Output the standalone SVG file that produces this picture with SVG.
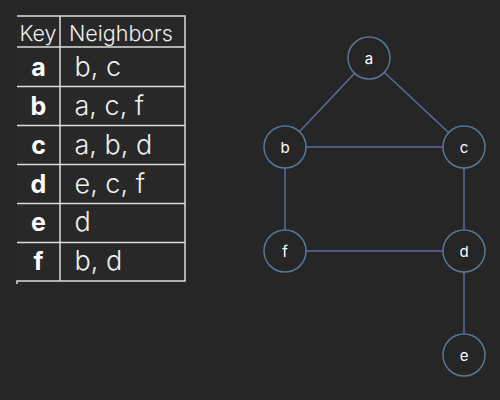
<svg xmlns="http://www.w3.org/2000/svg" width="500" height="400" viewBox="0 0 500 400">
<style>
.bg{fill:#262626}
.grid{stroke:#dcdcdc;stroke-width:1.5;fill:none}
.hdr{font-family:Inter,"Liberation Sans",sans-serif;font-weight:300;font-size:21.5px;fill:#f0f0f0}
.key{font-family:Inter,"Liberation Sans",sans-serif;font-weight:700;font-size:25px;fill:#ffffff;text-anchor:middle}
.nb{font-family:Inter,"Liberation Sans",sans-serif;font-weight:300;font-size:27px;fill:#f0f0f0}
.node circle{fill:#262626;stroke:#557799;stroke-width:1.5}
.node text{font-family:Inter,"Liberation Sans",sans-serif;font-size:15px;fill:#ffffff;text-anchor:middle}
.edge{stroke:#5b6b9a;stroke-width:1.5;fill:none}
</style>
<rect class="bg" x="0" y="0" width="500" height="400"/>
<g id="table">
<rect x="17" y="16" width="168" height="265" fill="#282828"/>
<path class="grid" d="M17,16H185V281H17V284M60,16V281M17,47H185M17,86.5H185M17,125.5H185M17,164.5H185M17,203.5H185M17,242.5H185"/>
<text class="hdr" x="19.5" y="41">Key</text>
<text class="hdr" x="69" y="41">Neighbors</text>
<text class="key" x="38.5" y="76">a</text><text class="nb" x="74.5" y="76">b, c</text>
<text class="key" x="38.5" y="115">b</text><text class="nb" x="74.5" y="115">a, c, f</text>
<text class="key" x="38.5" y="153.5">c</text><text class="nb" x="74.5" y="153.5">a, b, d</text>
<text class="key" x="38.5" y="192.5">d</text><text class="nb" x="74.5" y="192.5">e, c, f</text>
<text class="key" x="38.5" y="231">e</text><text class="nb" x="74.5" y="231">d</text>
<text class="key" x="38.5" y="269.5">f</text><text class="nb" x="74.5" y="269.5">b, d</text>
</g>
<g id="edges">
<line class="edge" x1="369" y1="58" x2="285" y2="147"/>
<line class="edge" x1="369" y1="58" x2="464" y2="147"/>
<line class="edge" x1="285" y1="147" x2="464" y2="147"/>
<line class="edge" x1="285" y1="147" x2="285" y2="251"/>
<line class="edge" x1="464" y1="147" x2="464" y2="251"/>
<line class="edge" x1="285" y1="251" x2="464" y2="251"/>
<line class="edge" x1="464" y1="251" x2="464" y2="355"/>
</g>
<g id="node-a" class="node"><circle cx="369" cy="58" r="21"/><text x="369" y="63.5">a</text></g>
<g id="node-b" class="node"><circle cx="285" cy="147" r="21"/><text x="285" y="152.5">b</text></g>
<g id="node-c" class="node"><circle cx="464" cy="147" r="21"/><text x="464" y="152.5">c</text></g>
<g id="node-f" class="node"><circle cx="285" cy="251" r="21"/><text x="285" y="256.5">f</text></g>
<g id="node-d" class="node"><circle cx="464" cy="251" r="21"/><text x="464" y="256.5">d</text></g>
<g id="node-e" class="node"><circle cx="464" cy="355" r="21"/><text x="464" y="360.5">e</text></g>
</svg>
